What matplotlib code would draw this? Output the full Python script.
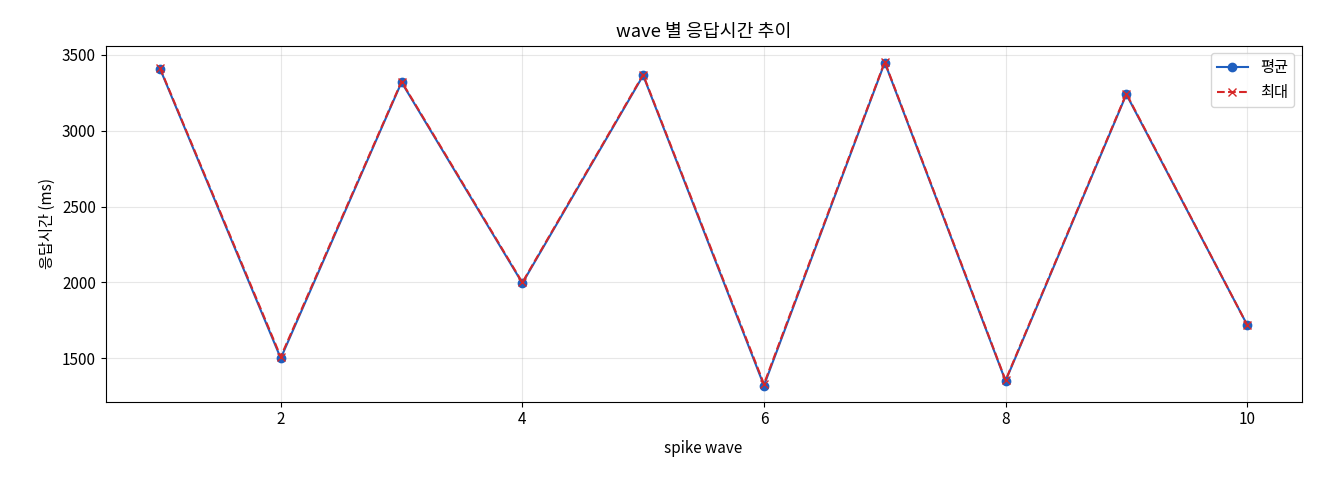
import matplotlib
matplotlib.use("Agg")
import matplotlib.pyplot as plt

plt.rcParams['font.family'] = ['Noto Sans CJK KR', 'DejaVu Sans']
plt.rcParams['axes.unicode_minus'] = False
plt.rcParams['font.size'] = 11

waves = [1, 2, 3, 4, 5, 6, 7, 8, 9, 10]
avg_ms = [3410, 1500, 3320, 1995, 3365, 1320, 3450, 1350, 3240, 1720]
max_ms = [3415, 1510, 3325, 2000, 3370, 1330, 3455, 1355, 3245, 1720]

fig, ax = plt.subplots(figsize=(13.2, 4.8), dpi=100)
fig.subplots_adjust(left=0.08, right=0.986, top=0.905, bottom=0.163)

ax.plot(waves, avg_ms, marker="o", color="#1f5fbf", label="평균")
ax.plot(waves, max_ms, marker="x", linestyle="--", color="#d62728", label="최대")

ax.set_title("wave 별 응답시간 추이")
ax.set_xlabel("spike wave", labelpad=8)
ax.set_ylabel("응답시간 (ms)")
ax.grid(True, alpha=0.3)
ax.legend(loc="upper right")

fig.savefig("out.png")
